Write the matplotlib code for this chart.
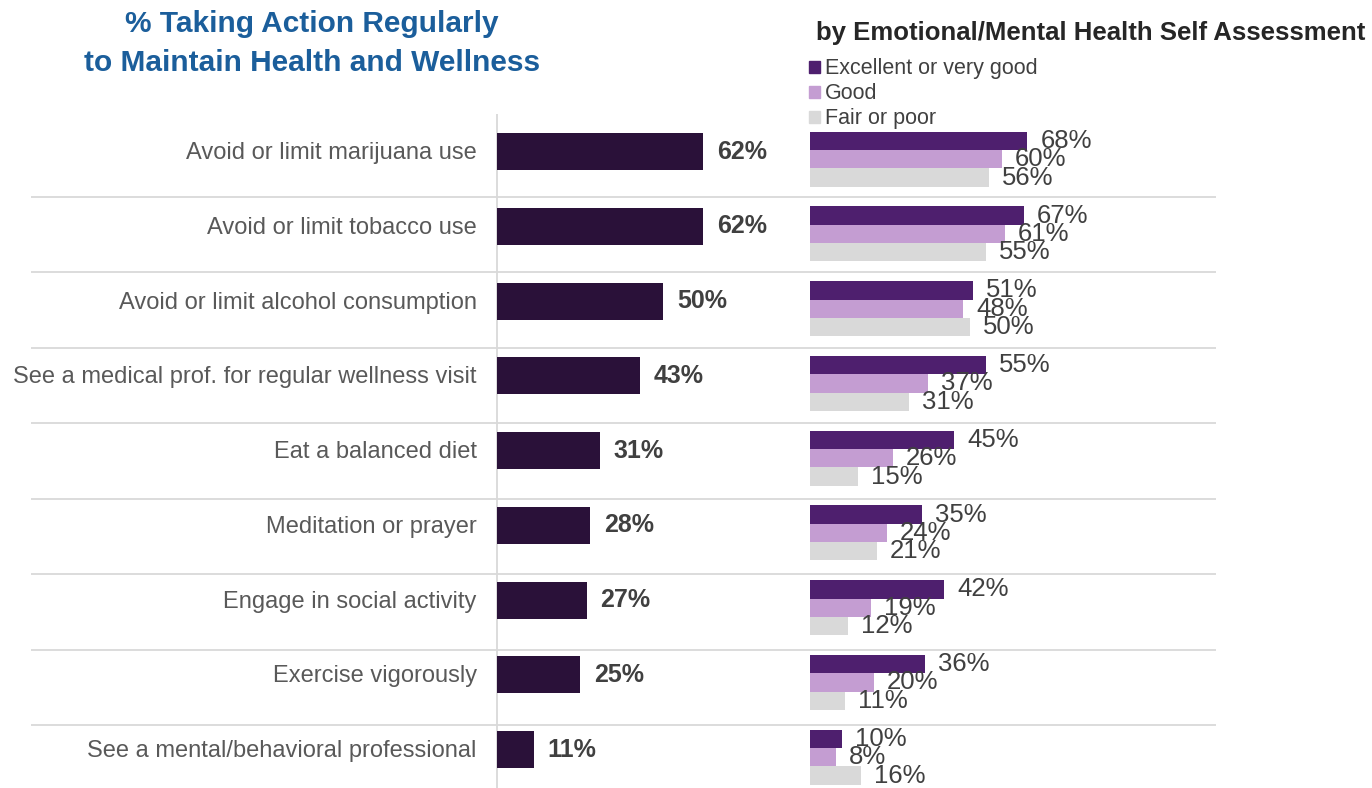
import matplotlib
matplotlib.use("Agg")
import matplotlib.pyplot as plt
from matplotlib.patches import Rectangle
import numpy as np

plt.rcParams["font.family"] = ["Liberation Sans", "DejaVu Sans"]

# ---- data ----
categories = [
    "Avoid or limit marijuana use",
    "Avoid or limit tobacco use",
    "Avoid or limit alcohol consumption",
    "See a medical prof. for regular wellness visit",
    "Eat a balanced diet",
    "Meditation or prayer",
    "Engage in social activity",
    "Exercise vigorously",
    "See a mental/behavioral professional",
]
overall = [62, 62, 50, 43, 31, 28, 27, 25, 11]
excellent = [68, 67, 51, 55, 45, 35, 42, 36, 10]
good = [60, 61, 48, 37, 26, 24, 19, 20, 8]
fair = [56, 55, 50, 31, 15, 21, 12, 11, 16]
series_names = ["Excellent or very good", "Good", "Fair or poor"]

# ---- style ----
C_OVERALL = "#2A1139"
C_SERIES = ["#4E1F6E", "#C49DD2", "#D9D9D9"]
C_TITLE = "#1B5E9B"
C_TEXT = "#595959"
C_VALUE = "#404040"
C_GRID = "#D9D9D9"

W, H = 1372, 788
fig = plt.figure(figsize=(W / 100, H / 100), dpi=100)

ROW_PX = 74.75
ROW0_PX = 159.2
y_top = -ROW0_PX / ROW_PX
y_bot = (H - ROW0_PX) / ROW_PX
rows = np.arange(len(categories))

# background layer in pixel units for the row separators and axis line
bg = fig.add_axes([0, 0, 1, 1], zorder=0)
bg.set_xlim(0, W)
bg.set_ylim(H, 0)
bg.axis("off")
sep_y = 196.7 + 75.47 * np.arange(len(categories) - 1)
bg.hlines(sep_y, 31, 1216, color=C_GRID, lw=1.3)
bg.vlines(497, 114, H, color=C_GRID, lw=1.3)


def make_axes(x0, x1, px_per_unit):
    ax = fig.add_axes([x0 / W, 0, (x1 - x0) / W, 1], zorder=1)
    ax.set_xlim(0, (x1 - x0) / px_per_unit)
    ax.set_ylim(y_bot, y_top)
    ax.axis("off")
    ax.patch.set_alpha(0)
    return ax


# ---- left panel: overall ----
axL = make_axes(497, 800, 3.32)
left_y = rows - 0.103
axL.barh(left_y, overall, height=0.495, color=C_OVERALL, edgecolor="none")
for y, v, name in zip(left_y, overall, categories):
    axL.annotate(f"{v}%", xy=(v, y), xytext=(10, 0), textcoords="offset points",
                 ha="left", va="center", fontsize=18, fontweight="bold", color=C_VALUE)
    axL.annotate(name, xy=(0, y), xytext=(-14.5, -1.2), textcoords="offset points",
                 ha="right", va="center", fontsize=17, color=C_TEXT)

# ---- right panel: by self assessment ----
axR = make_axes(810, 1216, 3.196)
bar_h = 0.245
for k, (vals, col) in enumerate(zip([excellent, good, fair], C_SERIES)):
    ys = rows + (k - 1) * bar_h
    axR.barh(ys, vals, height=bar_h, color=col, edgecolor="none")
    for y, v in zip(ys, vals):
        axR.annotate(f"{v}%", xy=(v, y), xytext=(9.4, 0), textcoords="offset points",
                     ha="left", va="center", fontsize=18.5, color=C_VALUE)

# ---- titles ----
fig.text(312 / W, 1 - 24 / H, "% Taking Action Regularly", ha="center", va="center",
         fontsize=21.5, fontweight="bold", color=C_TITLE)
fig.text(312 / W, 1 - 63 / H, "to Maintain Health and Wellness", ha="center", va="center",
         fontsize=21.5, fontweight="bold", color=C_TITLE)
fig.text(816 / W, 1 - 33 / H, "by Emotional/Mental Health Self Assessment", ha="left",
         va="center", fontsize=18.5, fontweight="bold", color="#262626")

# ---- legend ----
for k, (name, col) in enumerate(zip(series_names, C_SERIES)):
    yc = 67 + 25 * k
    fig.patches.append(Rectangle((809 / W, 1 - (yc + 5.5) / H), 11 / W, 11 / H,
                                 transform=fig.transFigure, color=col, zorder=3))
    fig.text(825 / W, 1 - (yc + 1.5) / H, name, ha="left", va="center", fontsize=15.5,
             color=C_VALUE)

fig.savefig("out.png", dpi=100, facecolor="white")
